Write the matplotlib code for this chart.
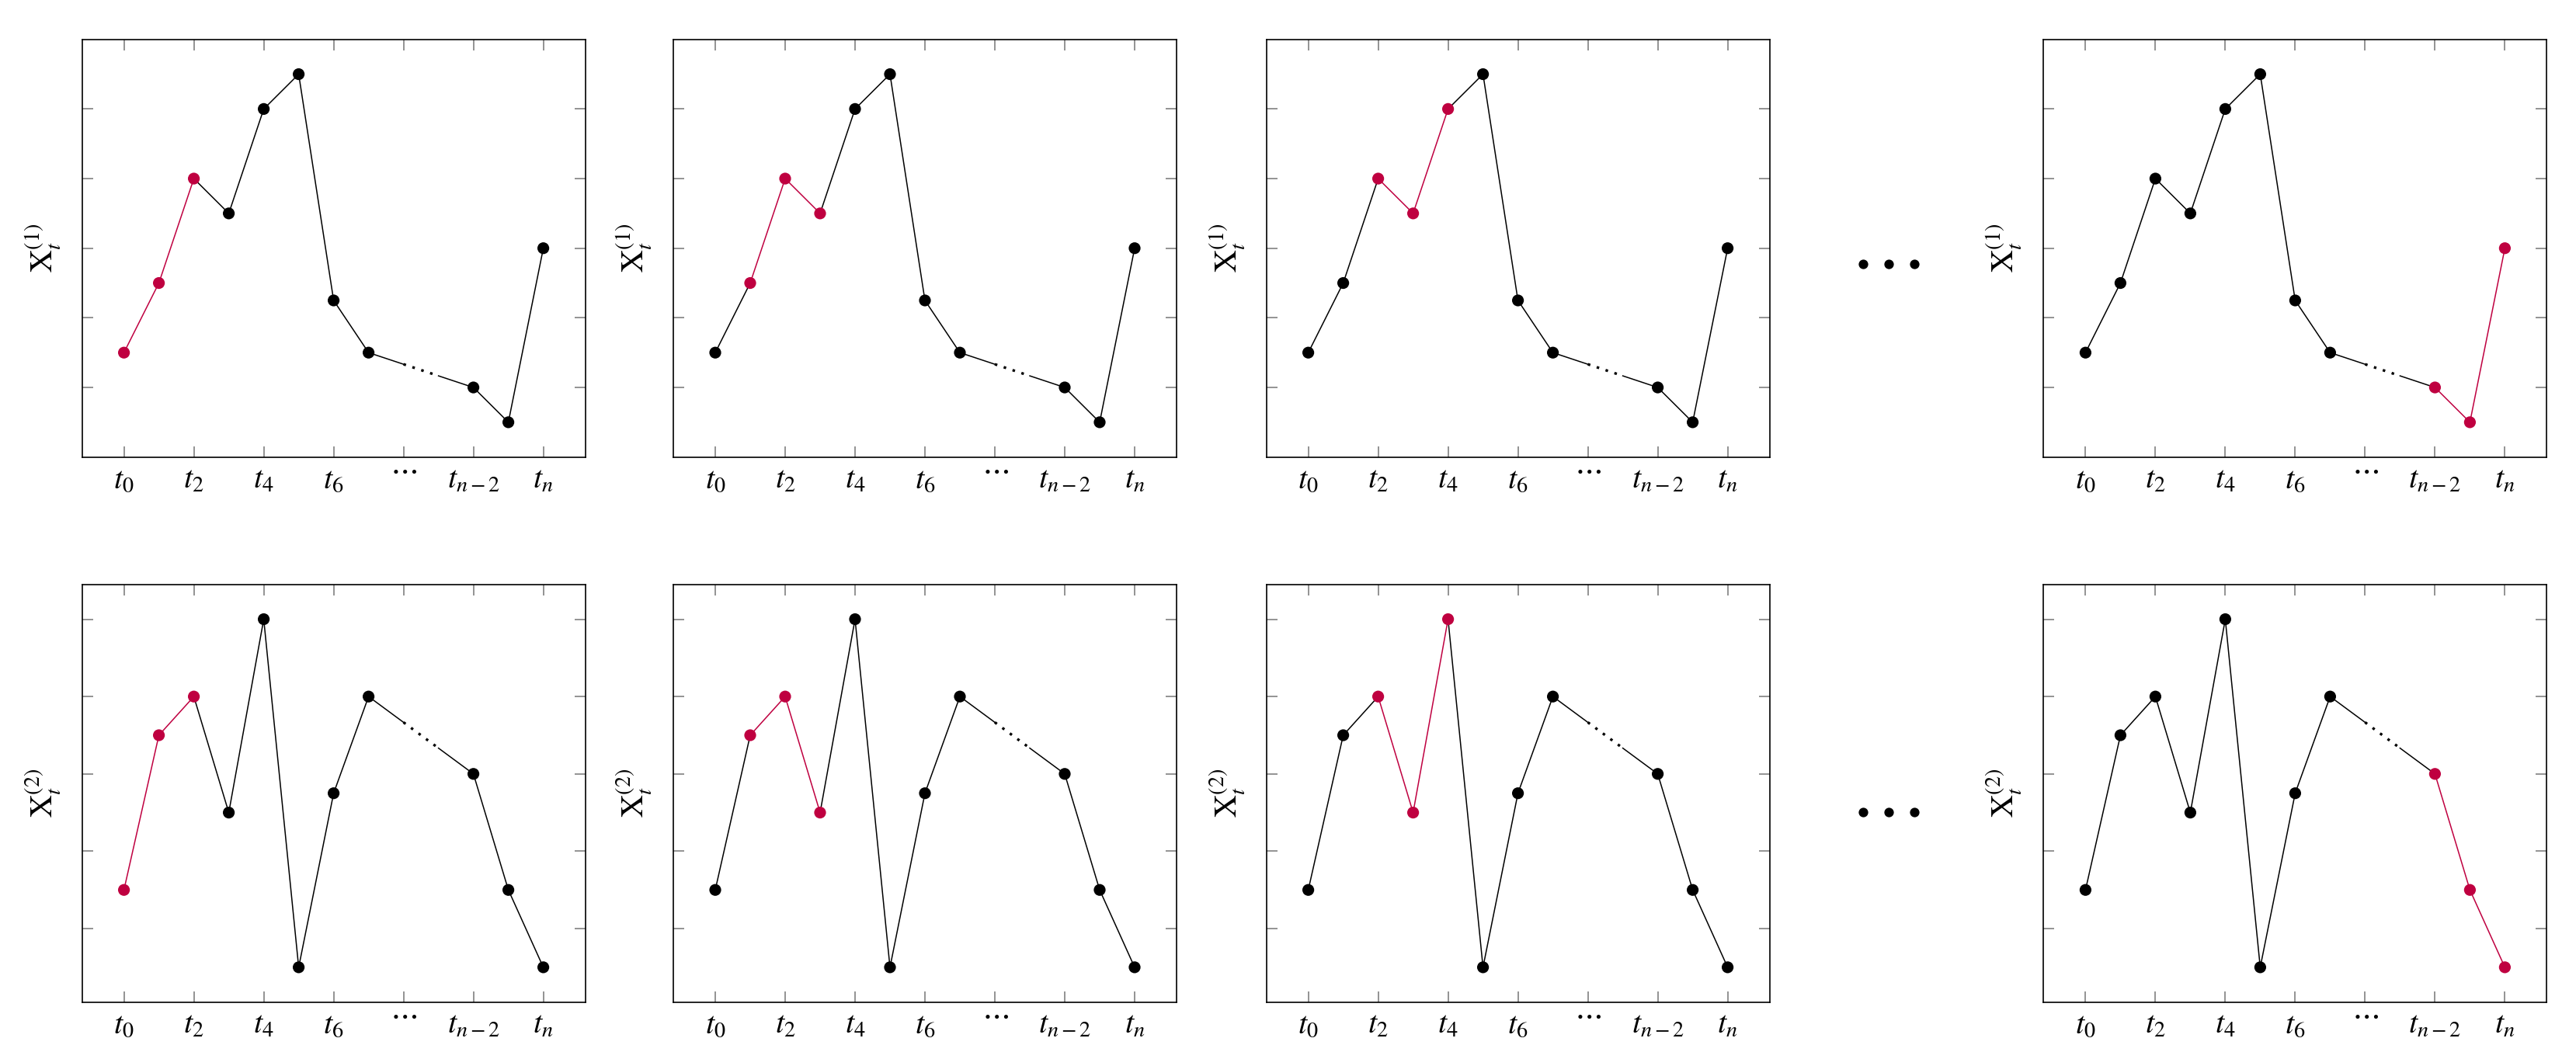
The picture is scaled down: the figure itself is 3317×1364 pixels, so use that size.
import numpy as np
import matplotlib.pyplot as plt
from matplotlib.lines import Line2D
from matplotlib.transforms import ScaledTranslation

plt.rcParams['mathtext.fontset'] = 'stix'
plt.rcParams['font.family'] = ['STIXGeneral', 'DejaVu Serif']

# time positions (t0..t7, then t_{n-2}, t_{n-1}, t_n)
t_pos = [0, 1, 2, 3, 4, 5, 6, 7, 10, 11, 12]
tick_pos = [0, 2, 4, 6, 8, 10, 12]
tick_labels = [r'$t_0$', r'$t_2$', r'$t_4$', r'$t_6$', r'$\cdots$', r'$t_{n-2}$', r'$t_n$']

series1 = [1.5, 2.5, 4.0, 3.5, 5.0, 5.5, 2.25, 1.5, 1.0, 0.5, 3.0]
series2 = [1.5, 3.5, 4.0, 2.5, 5.0, 0.5, 2.75, 4.0, 3.0, 1.5, 0.5]
ylims = [(0, 6), (0.05, 5.45)]

# first index of the highlighted window in each column
windows = [0, 1, 2, 8]
win_len = 3
gap_after = 7   # segment between index 7 and 8 is the "..." part

red = '#BF0040'

W, H = 3317, 1364
fig = plt.figure(figsize=(W / 200, H / 200), dpi=200)

lefts = [105.6, 867.0, 1630.6, 2631.4]
box_w = 648.0
row_tops = [50.7, 752.7]
box_h = 538.0

for r, (series, ylim) in enumerate(zip([series1, series2], ylims)):
    for c, w0 in enumerate(windows):
        ax = fig.add_axes([lefts[c] / W, 1 - (row_tops[r] + box_h) / H, box_w / W, box_h / H])
        win = set(range(w0, w0 + win_len))
        x = np.array(t_pos, dtype=float)
        y = np.array(series, dtype=float)
        for i in range(len(x) - 1):
            col = red if (i in win and i + 1 in win) else 'black'
            if i == gap_after:
                xs = np.array([x[i], x[i] + 1, x[i] + 2, x[i + 1]])
                ys = np.interp(xs, [x[i], x[i + 1]], [y[i], y[i + 1]])
                ax.plot(xs[:2], ys[:2], color=col, lw=0.55, zorder=2)
                ax.plot(xs[1:3], ys[1:3], color=col, lw=1.2, ls=(0, (1, 2.6)), zorder=2)
                ax.plot(xs[2:], ys[2:], color=col, lw=0.55, zorder=2)
            else:
                ax.plot(x[i:i + 2], y[i:i + 2], color=col, lw=0.55, zorder=2)
        colors = [red if i in win else 'black' for i in range(len(x))]
        ax.scatter(x, y, s=30, c=colors, zorder=3, linewidths=0)

        ax.set_xlim(-1.2, 13.2)
        ax.set_ylim(*ylim)
        ax.set_xticks(tick_pos)
        ax.set_xticklabels(tick_labels, fontsize=14.5)
        ax.set_yticks([1, 2, 3, 4, 5])
        ax.set_yticklabels([])
        ax.tick_params(direction='in', length=5, width=0.6, color='#808080',
                       top=True, right=True, pad=4)
        for sp in ax.spines.values():
            sp.set_linewidth(0.6)
        # raise the \cdots label like TeX's math axis
        dots_lab = ax.get_xticklabels()[4]
        dots_lab.set_transform(dots_lab.get_transform() +
                               ScaledTranslation(0, 4 / 72, fig.dpi_scale_trans))
        ax.set_ylabel(r'$\mathrm{X}_t^{(%d)}$' % (r + 1), fontsize=14.5, labelpad=5)

# "..." between third and fourth columns
for yc in [340, 1046]:
    fig.add_artist(Line2D([2399 / W, 2432 / W, 2465 / W], [1 - yc / H] * 3,
                          transform=fig.transFigure, ls='none', marker='o',
                          markersize=3.4, color='black'))

fig.savefig('out.png', dpi=200)
